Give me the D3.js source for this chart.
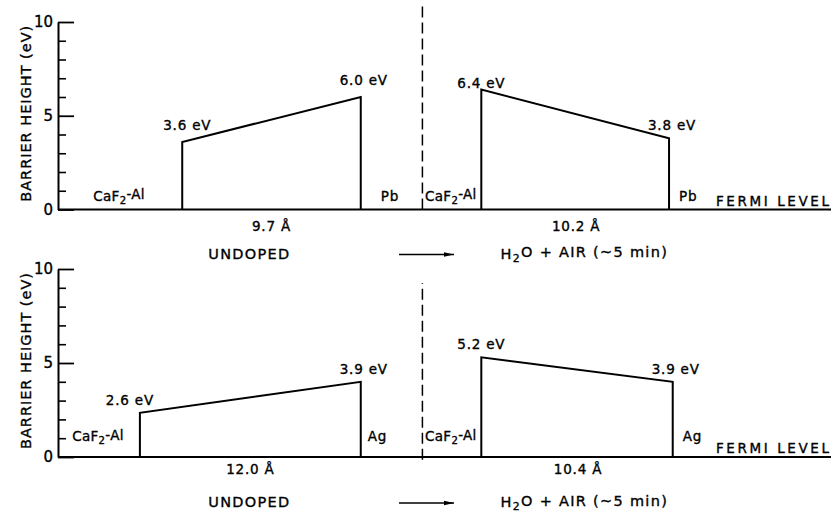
<!DOCTYPE html>
<html>
<head>
<meta charset="utf-8">
<script src="https://cdn.jsdelivr.net/npm/d3@7"></script>
<style>
body { margin: 0; background: #fff; }
text { font-family: "DejaVu Sans", sans-serif; fill: #000; stroke: #000; stroke-width: 0.35px; }
</style>
</head>
<body>
<script>
var width = 831, height = 512;

// panels: 0 = top left, 1 = top right, 2 = bottom left, 3 = bottom right
var leftHeights  = [3.6, 6.4, 2.35, 5.3];   // eV at the CaF2-Al side, as drawn
var rightHeights = [6.0, 3.8, 4.0, 4.0];    // eV at the metal side, as drawn
var leftLabels   = ["3.6 eV", "6.4 eV", "2.6 eV", "5.2 eV"];
var rightLabels  = ["6.0 eV", "3.8 eV", "3.9 eV", "3.9 eV"];
var thickness    = [9.7, 10.2, 12.0, 10.4]; // Å
var metals       = ["Pb", "Pb", "Ag", "Ag"];
var conditions   = ["UNDOPED", "H₂O + AIR (~5 min)"];
var majorTicks   = [0, 5, 10];
var minorTicks   = [1, 2, 3, 4, 6, 7, 8, 9];

var rows = [
  {range: [209.5, 22], dash: [0, 10.9], interfaceDy: -9, widthDy: 21, condDy: 49, metalGap: 20},
  {range: [457, 269], dash: [-0.15, 9.25], interfaceDy: -16, widthDy: 17, condDy: 50, metalGap: 7}
];

// distance across the page in Å, 0 at the dashed divider
var x = d3.scaleLinear().domain([-19.8, 22.2]).range([58, 831]);
var leftEnd = -3.35, rightStart = 3.2;

var svg = d3.select("body").append("svg")
  .attr("width", width).attr("height", height);

svg.append("defs").append("marker")
  .attr("id", "arrow").attr("viewBox", "0 0 10 6")
  .attr("refX", 10).attr("refY", 3)
  .attr("markerWidth", 10).attr("markerHeight", 6)
  .attr("markerUnits", "userSpaceOnUse").attr("orient", "auto")
  .append("path").attr("d", "M0,0.8L10,3L0,5.2Z").attr("fill", "#000");

// writes text, turning ₂ into a real lowered subscript
function rich(sel, str) {
  var parts = str.split(/(₂)/);
  var shifted = false;
  parts.forEach(function (p) {
    if (p === "") return;
    if (p === "₂") {
      sel.append("tspan").attr("dy", "0.32em").attr("font-size", "0.75em").text("2");
      shifted = true;
    } else {
      var t = sel.append("tspan").text(p);
      if (shifted) { t.attr("dy", "-0.32em"); shifted = false; }
    }
  });
}

rows.forEach(function (row, r) {
  var y = d3.scaleLinear().domain([0, 10]).range(row.range);
  var g = svg.append("g");

  // y axis
  var ya = g.append("g").attr("transform", "translate(" + x(x.domain()[0]) + ",0)");
  ya.call(d3.axisLeft(y).tickValues(majorTicks).tickSize(-16).tickSizeOuter(0).tickPadding(5));
  ya.call(function (a) {
    a.selectAll("text").attr("font-size", 15).attr("font-family", "DejaVu Sans").attr("fill", "#000");
    a.selectAll("line").attr("stroke", "#000").attr("stroke-width", 1.8);
    a.select(".domain").attr("stroke", "#000").attr("stroke-width", 2);
  });
  var ym = g.append("g").attr("transform", "translate(" + x(x.domain()[0]) + ",0)");
  ym.call(d3.axisLeft(y).tickValues(minorTicks).tickSize(-8).tickFormat(""));
  ym.select(".domain").remove();
  ym.selectAll("line").attr("stroke", "#000").attr("stroke-width", 1.6);

  var ymid = (row.range[0] + row.range[1]) / 2 - 2;
  g.append("text")
    .attr("transform", "translate(31," + ymid + ") rotate(-90)")
    .attr("text-anchor", "middle").attr("font-size", 14.5)
    .attr("textLength", 176).attr("lengthAdjust", "spacing")
    .text("BARRIER  HEIGHT (eV)");

  // fermi level line
  g.append("line")
    .attr("x1", x.range()[0]).attr("x2", x.range()[1])
    .attr("y1", y(0)).attr("y2", y(0))
    .attr("stroke", "#000").attr("stroke-width", 1.8);
  g.append("text")
    .attr("x", 716).attr("y", y(0) - 4).attr("font-size", 13.5)
    .attr("textLength", 113).attr("lengthAdjust", "spacing")
    .text("FERMI  LEVEL");

  // dashed divider
  g.append("line")
    .attr("x1", x(0)).attr("x2", x(0))
    .attr("y1", y(row.dash[0])).attr("y2", y(row.dash[1]))
    .attr("stroke", "#000").attr("stroke-width", 1.5)
    .attr("stroke-dasharray", "11,5");

  [0, 1].forEach(function (side) {
    var i = r * 2 + side;
    var x0 = side === 0 ? leftEnd - thickness[i] : rightStart;
    var x1 = x0 + thickness[i];
    var pts = [[x0, 0], [x0, leftHeights[i]], [x1, rightHeights[i]], [x1, 0]];
    g.append("path")
      .attr("d", d3.line().x(function (d) { return x(d[0]); }).y(function (d) { return y(d[1]); })(pts))
      .attr("fill", "none").attr("stroke", "#000").attr("stroke-width", 2)
      .attr("stroke-linejoin", "miter");

    var lab = g.append("g").attr("font-size", 13.5).attr("letter-spacing", 0.8);
    lab.append("text").attr("text-anchor", "middle")
      .attr("x", x(x0) + (i === 2 ? -10 : i === 0 ? 5 : 0))
      .attr("y", y(leftHeights[i]) - (i === 0 ? 12 : i === 1 ? 2 : 8))
      .text(leftLabels[i]);
    lab.append("text").attr("text-anchor", "middle")
      .attr("x", x(x1) + 3)
      .attr("y", y(rightHeights[i]) - (i === 0 ? 12 : 8))
      .text(rightLabels[i]);

    // interface label, centred between the left boundary and the barrier
    var leftBound = side === 0 ? x.range()[0] : x(0);
    var cf = lab.append("text").attr("text-anchor", "middle")
      .attr("letter-spacing", 0.3)
      .attr("x", (leftBound + x(x0)) / 2 - 1)
      .attr("y", y(0) + row.interfaceDy);
    rich(cf, "CaF₂-Al");

    lab.append("text")
      .attr("x", x(x1) + (side === 0 ? row.metalGap : 10))
      .attr("y", y(0) + row.interfaceDy)
      .text(metals[i]);

    lab.append("text").attr("text-anchor", "middle")
      .attr("x", (x(x0) + x(x1)) / 2 + (side === 0 ? 0 : 1))
      .attr("y", y(0) + row.widthDy)
      .text(thickness[i].toFixed(1) + "  Å");

    var ct = g.append("text").attr("text-anchor", "middle")
      .attr("font-size", 14.5).attr("letter-spacing", 1.3)
      .attr("x", side === 0 ? x(-9.4) : x(8.8))
      .attr("y", y(0) + row.condDy);
    rich(ct, conditions[side]);
  });

  // arrow between the two conditions
  g.append("line")
    .attr("x1", 399).attr("x2", 454)
    .attr("y1", y(0) + row.condDy - 4).attr("y2", y(0) + row.condDy - 4)
    .attr("stroke", "#000").attr("stroke-width", 1.3)
    .attr("marker-end", "url(#arrow)");
});
</script>
</body>
</html>
